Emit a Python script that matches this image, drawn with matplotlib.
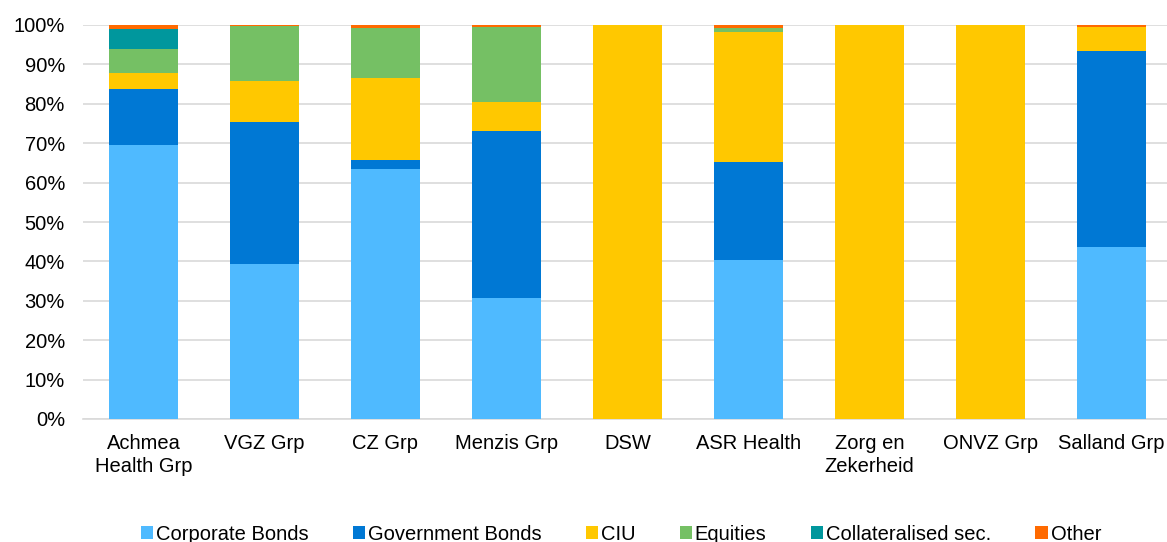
import numpy as np
import matplotlib.pyplot as plt

plt.rcParams['font.family'] = ['Liberation Sans', 'DejaVu Sans']

# groups and portfolio shares (%)
groups = ['Achmea\nHealth Grp', 'VGZ Grp', 'CZ Grp', 'Menzis Grp', 'DSW',
          'ASR Health', 'Zorg en\nZekerheid', 'ONVZ Grp', 'Salland Grp']
corporate = [69.5, 39.3, 63.5, 30.7, 0, 40.4, 0, 0, 43.7]
government = [14.3, 36.1, 2.2, 42.4, 0, 24.8, 0, 0, 49.8]
ciu = [4.0, 10.4, 20.9, 7.3, 100, 33.1, 100, 100, 6.1]
equities = [6.1, 13.9, 12.6, 19.0, 0, 1.0, 0, 0, 0]
collateral = [5.1, 0, 0, 0, 0, 0, 0, 0, 0]
other = [1.0, 0.3, 0.8, 0.6, 0, 0.7, 0, 0, 0.4]

series = [('Corporate Bonds', corporate, '#4FBAFF'),
          ('Government Bonds', government, '#0078D4'),
          ('CIU', ciu, '#FFC800'),
          ('Equities', equities, '#75C064'),
          ('Collateralised sec.', collateral, '#00979D'),
          ('Other', other, '#FF6A00')]

fig = plt.figure(figsize=(11.67, 5.42), dpi=100)
ax = fig.add_axes([83/1167, 123/542, 1089/1167, 394/542])

x = np.arange(len(groups))
bottom = np.zeros(len(groups))
for name, vals, col in series:
    v = np.array(vals) / 100
    ax.bar(x, v, 0.57, bottom=bottom, color=col, label=name, zorder=3)
    bottom += v

ax.set_xlim(-0.5, len(groups) - 0.5)
ax.set_ylim(0, 1)
ax.set_yticks(np.arange(0, 1.01, 0.1))
ax.set_yticklabels(['%d%%' % (t * 10) for t in range(11)])
ax.set_xticks(x)
ax.set_xticklabels(groups, linespacing=1.25)
ax.tick_params(axis='both', length=0, labelsize=14.5, colors='#000000')
ax.tick_params(axis='x', pad=11)
ax.tick_params(axis='y', pad=13)
ax.grid(axis='y', color='#D9D9D9', linewidth=1.2, zorder=0)
for s in ['top', 'right', 'left']:
    ax.spines[s].set_visible(False)
ax.spines['bottom'].set_color('#D9D9D9')
ax.spines['bottom'].set_linewidth(1.2)

fig.legend(loc='center', bbox_to_anchor=(0.532, 0.014), ncol=6, frameon=False,
           fontsize=14.5, handlelength=0.6, handleheight=0.6, handletextpad=0.15,
           columnspacing=2.2)

fig.savefig('out.png', dpi=100)
